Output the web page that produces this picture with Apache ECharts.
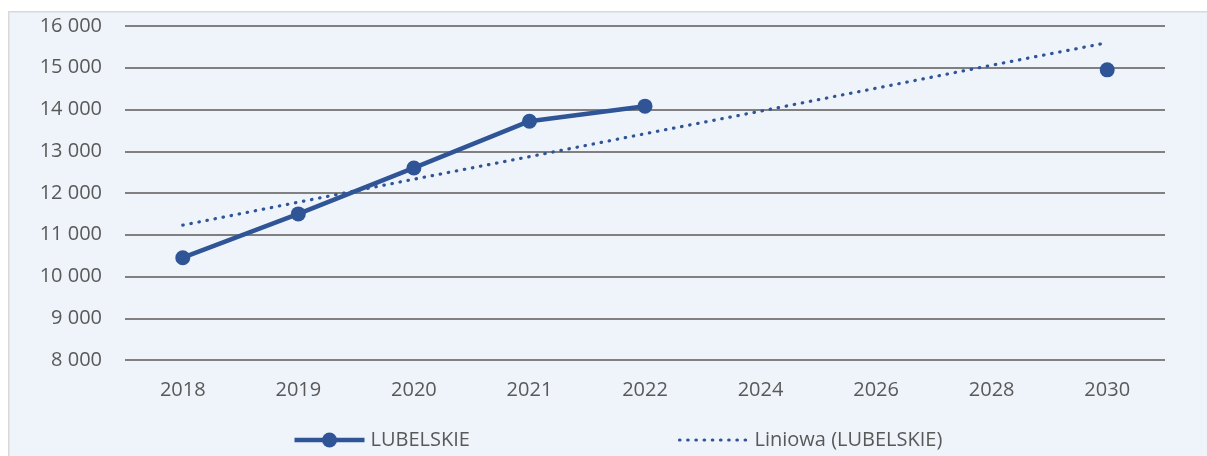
<!DOCTYPE html>
<html>
<head>
<meta charset="utf-8">
<script src="https://cdn.jsdelivr.net/npm/echarts@6/dist/echarts.min.js"></script>
<style>
html,body{margin:0;padding:0;background:#fff;}
#main{width:1207px;height:456px;}
</style>
</head>
<body>
<div id="main"></div>
<script>
const categories = ['2018','2019','2020','2021','2022','2024','2026','2028','2030'];
const lubelskie = [10450, 11500, 12600, 13720, 14080, null, null, null, 14950];
const trend = [11230, 11780, 12330, 12870, 13420, 13960, 14510, 15060, 15600];
const seriesNames = ['LUBELSKIE', 'Liniowa (LUBELSKIE)'];
const yMin = 8000, yMax = 16000, yStep = 1000;

const chart = echarts.init(document.getElementById('main'));
const font = '"Open Sans", "Liberation Sans", sans-serif';
const blue = '#2F5597';
const textColor = '#595959';
const dotDash = [0.5, 7.7];

chart.setOption({
  backgroundColor: '#ffffff',
  animation: false,
  graphic: [
    {
      type: 'rect', left: 8, top: 11, z: -10, silent: true,
      shape: {width: 1199, height: 445},
      style: {fill: '#EFF4FB', stroke: '#D9D9D9', lineWidth: 1.5}
    },
    {
      type: 'group', left: 292, top: 430,
      children: [
        {type: 'line', shape: {x1: 0, y1: 10, x2: 70, y2: 10},
         style: {stroke: blue, lineWidth: 4.5}},
        {type: 'circle', shape: {cx: 35, cy: 10, r: 7.5}, style: {fill: blue}},
        {type: 'text', x: 76, y: 10,
         style: {text: seriesNames[0], fill: textColor, fontSize: 20, fontFamily: font, verticalAlign: 'middle'}}
      ]
    },
    {
      type: 'group', left: 677, top: 430,
      children: [
        {type: 'line', shape: {x1: 0, y1: 10, x2: 68, y2: 10},
         style: {stroke: blue, lineWidth: 3.2, lineDash: dotDash, lineCap: 'round'}},
        {type: 'text', x: 75, y: 10,
         style: {text: seriesNames[1], fill: textColor, fontSize: 20, fontFamily: font, verticalAlign: 'middle'}}
      ]
    }
  ],
  grid: {left: 125, right: 42, top: 26, bottom: 96},
  xAxis: {
    type: 'category', data: categories, boundaryGap: true,
    axisLine: {show: false}, axisTick: {show: false},
    axisLabel: {color: textColor, fontSize: 20, fontFamily: font, margin: 20}
  },
  yAxis: {
    type: 'value', min: yMin, max: yMax, interval: yStep,
    axisLine: {show: false}, axisTick: {show: false},
    axisLabel: {color: textColor, fontSize: 20, fontFamily: font, margin: 23,
      formatter: v => String(v).replace(/\B(?=(\d{3})+(?!\d))/g, ' ')},
    splitLine: {lineStyle: {color: '#808080', width: 2}}
  },
  series: [
    {
      name: seriesNames[0], type: 'line', data: lubelskie, connectNulls: false,
      symbol: 'circle', symbolSize: 15,
      lineStyle: {color: blue, width: 4.5},
      itemStyle: {color: blue}, z: 3
    },
    {
      name: seriesNames[1], type: 'line', data: trend,
      symbol: 'none',
      lineStyle: {color: blue, width: 3.2, type: dotDash, cap: 'round'},
      itemStyle: {color: blue}, z: 2
    }
  ]
});
</script>
</body>
</html>
